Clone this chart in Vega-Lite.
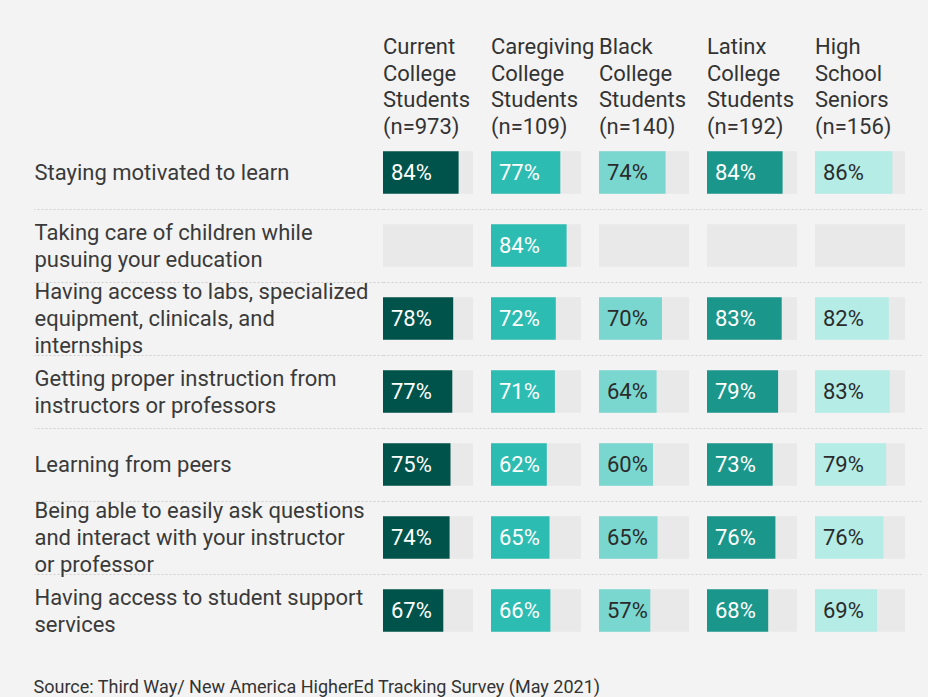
{
  "$schema": "https://vega.github.io/schema/vega-lite/v6.json",
  "background": "#f3f3f3",
  "padding": {"left": 33, "top": 35, "right": 5, "bottom": 5},
  "config": {"view": {"stroke": null}, "font": "Roboto"},
  "title": {"text": "Source: Third Way/ New America HigherEd Tracking Survey (May 2021)", "orient": "bottom", "anchor": "start", "font": "Roboto", "fontSize": 18, "fontWeight": "normal", "color": "#333333", "offset": 32},
  "data": {"values": [
    {"item": "Staying motivated to learn", "group": "Current|College|Students|(n=973)", "value": 0.84},
    {"item": "Staying motivated to learn", "group": "Caregiving|College|Students|(n=109)", "value": 0.77},
    {"item": "Staying motivated to learn", "group": "Black|College|Students|(n=140)", "value": 0.74},
    {"item": "Staying motivated to learn", "group": "Latinx|College|Students|(n=192)", "value": 0.84},
    {"item": "Staying motivated to learn", "group": "High|School|Seniors|(n=156)", "value": 0.86},
    {"item": "Taking care of children while|pusuing your education", "group": "Current|College|Students|(n=973)", "value": null},
    {"item": "Taking care of children while|pusuing your education", "group": "Caregiving|College|Students|(n=109)", "value": 0.84},
    {"item": "Taking care of children while|pusuing your education", "group": "Black|College|Students|(n=140)", "value": null},
    {"item": "Taking care of children while|pusuing your education", "group": "Latinx|College|Students|(n=192)", "value": null},
    {"item": "Taking care of children while|pusuing your education", "group": "High|School|Seniors|(n=156)", "value": null},
    {"item": "Having access to labs, specialized|equipment, clinicals, and|internships", "group": "Current|College|Students|(n=973)", "value": 0.78},
    {"item": "Having access to labs, specialized|equipment, clinicals, and|internships", "group": "Caregiving|College|Students|(n=109)", "value": 0.72},
    {"item": "Having access to labs, specialized|equipment, clinicals, and|internships", "group": "Black|College|Students|(n=140)", "value": 0.70},
    {"item": "Having access to labs, specialized|equipment, clinicals, and|internships", "group": "Latinx|College|Students|(n=192)", "value": 0.83},
    {"item": "Having access to labs, specialized|equipment, clinicals, and|internships", "group": "High|School|Seniors|(n=156)", "value": 0.82},
    {"item": "Getting proper instruction from|instructors or professors", "group": "Current|College|Students|(n=973)", "value": 0.77},
    {"item": "Getting proper instruction from|instructors or professors", "group": "Caregiving|College|Students|(n=109)", "value": 0.71},
    {"item": "Getting proper instruction from|instructors or professors", "group": "Black|College|Students|(n=140)", "value": 0.64},
    {"item": "Getting proper instruction from|instructors or professors", "group": "Latinx|College|Students|(n=192)", "value": 0.79},
    {"item": "Getting proper instruction from|instructors or professors", "group": "High|School|Seniors|(n=156)", "value": 0.83},
    {"item": "Learning from peers", "group": "Current|College|Students|(n=973)", "value": 0.75},
    {"item": "Learning from peers", "group": "Caregiving|College|Students|(n=109)", "value": 0.62},
    {"item": "Learning from peers", "group": "Black|College|Students|(n=140)", "value": 0.60},
    {"item": "Learning from peers", "group": "Latinx|College|Students|(n=192)", "value": 0.73},
    {"item": "Learning from peers", "group": "High|School|Seniors|(n=156)", "value": 0.79},
    {"item": "Being able to easily ask questions|and interact with your instructor|or professor", "group": "Current|College|Students|(n=973)", "value": 0.74},
    {"item": "Being able to easily ask questions|and interact with your instructor|or professor", "group": "Caregiving|College|Students|(n=109)", "value": 0.65},
    {"item": "Being able to easily ask questions|and interact with your instructor|or professor", "group": "Black|College|Students|(n=140)", "value": 0.65},
    {"item": "Being able to easily ask questions|and interact with your instructor|or professor", "group": "Latinx|College|Students|(n=192)", "value": 0.76},
    {"item": "Being able to easily ask questions|and interact with your instructor|or professor", "group": "High|School|Seniors|(n=156)", "value": 0.76},
    {"item": "Having access to student support|services", "group": "Current|College|Students|(n=973)", "value": 0.67},
    {"item": "Having access to student support|services", "group": "Caregiving|College|Students|(n=109)", "value": 0.66},
    {"item": "Having access to student support|services", "group": "Black|College|Students|(n=140)", "value": 0.57},
    {"item": "Having access to student support|services", "group": "Latinx|College|Students|(n=192)", "value": 0.68},
    {"item": "Having access to student support|services", "group": "High|School|Seniors|(n=156)", "value": 0.69}
  ]},
  "facet": {
    "column": {
      "field": "group", "type": "nominal", "title": null,
      "sort": ["Current|College|Students|(n=973)", "Caregiving|College|Students|(n=109)", "Black|College|Students|(n=140)", "Latinx|College|Students|(n=192)", "High|School|Seniors|(n=156)"],
      "header": {"labelExpr": "split(datum.value, '|')", "labelAlign": "left", "labelAnchor": "start", "labelFont": "Roboto", "labelFontSize": 22, "labelColor": "#333333", "labelLineHeight": 26.7, "labelBaseline": "bottom", "labelPadding": -25, "labelLimit": 0}
    }
  },
  "spacing": 0,
  "spec": {
    "width": 108,
    "height": 511,
    "encoding": {
      "y": {
        "field": "item", "type": "nominal", "title": null,
        "sort": ["Staying motivated to learn", "Taking care of children while|pusuing your education", "Having access to labs, specialized|equipment, clinicals, and|internships", "Getting proper instruction from|instructors or professors", "Learning from peers", "Being able to easily ask questions|and interact with your instructor|or professor", "Having access to student support|services"],
        "scale": {"paddingInner": 0, "paddingOuter": 0},
        "axis": {
          "domain": false,
          "labelExpr": "split(datum.label, '|')",
          "labelAlign": "left", "labelBaseline": "middle",
          "labelPadding": 0, "tickSize": 349,
          "labelFont": "Roboto", "labelFontSize": 22, "labelColor": "#3a3a3a", "labelLineHeight": 27, "labelLimit": 0,
          "tickColor": "#cfcfcf", "tickDash": [2, 2], "tickWidth": 1,
          "tickOffset": -36.5,
          "labelOffset": {"condition": [
            {"test": "length(split(datum.value, '|')) === 3", "value": 9.5},
            {"test": "length(split(datum.value, '|')) === 2", "value": 23}
          ], "value": 36.5},
          "grid": true, "gridColor": "#cfcfcf", "gridDash": [2, 2], "gridWidth": 1,
          "tickOpacity": {"condition": {"test": "datum.value === 'Staying motivated to learn'", "value": 0}, "value": 1},
          "gridOpacity": {"condition": {"test": "datum.value === 'Staying motivated to learn'", "value": 0}, "value": 1}
        }
      }
    },
    "layer": [
      {
        "mark": {"type": "bar", "color": "#e9e9e9", "height": {"band": 0.58}},
        "encoding": {"x": {"datum": 1, "type": "quantitative", "scale": {"domain": [0, 1.2], "nice": false}, "axis": null}}
      },
      {
        "transform": [{"filter": "isValid(datum.value)"}],
        "mark": {"type": "bar", "height": {"band": 0.58}},
        "encoding": {
          "x": {"field": "value", "type": "quantitative"},
          "color": {"field": "group", "type": "nominal", "legend": null,
            "scale": {"domain": ["Current|College|Students|(n=973)", "Caregiving|College|Students|(n=109)", "Black|College|Students|(n=140)", "Latinx|College|Students|(n=192)", "High|School|Seniors|(n=156)"],
                      "range": ["#00534b", "#2dbcb2", "#7ad7cf", "#1b968b", "#b5ece6"]}}
        }
      },
      {
        "transform": [{"filter": "isValid(datum.value)"}],
        "mark": {"type": "text", "align": "left", "baseline": "middle", "dx": 8, "font": "Roboto", "fontSize": 22},
        "encoding": {
          "x": {"datum": 0, "type": "quantitative"},
          "text": {"field": "value", "type": "quantitative", "format": ".0%"},
          "color": {"condition": {"test": "datum.group === 'Black|College|Students|(n=140)' || datum.group === 'High|School|Seniors|(n=156)'", "value": "#2b2b2b"}, "value": "#ffffff"}
        }
      }
    ]
  }
}
